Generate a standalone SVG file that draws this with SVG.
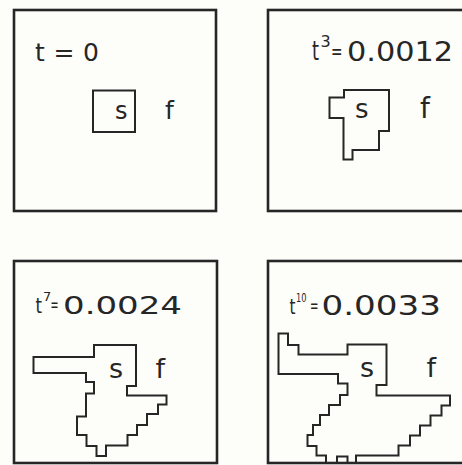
<svg xmlns="http://www.w3.org/2000/svg" width="462" height="465" viewBox="0 0 462 465">
<style>
.bg{fill:#fdfdf9}
.frame{fill:none;stroke:#262626;stroke-width:2.6}
.shape{fill:none;stroke:#262626;stroke-width:2;stroke-linejoin:miter}
text{font-family:"DejaVu Sans","Liberation Sans",sans-serif;fill:#262626}
</style>
<rect class="bg" x="0" y="0" width="462" height="465"/>
<g id="panel-t0">
  <rect class="frame" x="14" y="10" width="202" height="201"/>
  <rect class="shape" x="93" y="90.5" width="42" height="41.5"/>
  <text x="35" y="61" font-size="25" textLength="64" lengthAdjust="spacing">t = 0</text>
  <text x="115" y="119" font-size="24">s</text>
  <text x="165" y="118.5" font-size="25">f</text>
</g>
<g id="panel-t3">
  <rect class="frame" x="268" y="10" width="220" height="201"/>
  <polygon class="shape" points="344,90 389,90 389,131 379,131 379,150 352.5,150 352.5,159.5 343.5,159.5 343.5,118 329.5,118 329.5,97.5 344,97.5"/>
  <text font-size="26"><tspan x="312" y="60" textLength="7" lengthAdjust="spacingAndGlyphs">t</tspan><tspan x="320.5" y="46.5" font-size="16">3</tspan><tspan x="331" y="58.5" font-size="22" textLength="11.5" lengthAdjust="spacingAndGlyphs">=</tspan><tspan x="347" y="61" textLength="106" lengthAdjust="spacingAndGlyphs">0.0012</tspan></text>
  <text x="355" y="117.5" font-size="26">s</text>
  <text x="420" y="118" font-size="28">f</text>
</g>
<g id="panel-t7">
  <rect class="frame" x="14" y="261" width="203" height="202"/>
  <polygon class="shape" points="94,345 136,345 136,386 127,386 127,395.5 166.5,395.5 166.5,404.5 158,404.5 158,414 147,414 147,425 137,425 137,435 127.5,435 127.5,445.5 106,445.5 106,456 96.5,456 96.5,446 86.5,446 86.5,435 77,435 77,416.5 86,416.5 86,393.5 94,393.5 94,382 86,382 86,373 33.5,373 33.5,357 94,357"/>
  <text font-size="22"><tspan x="35.5" y="312.5" textLength="6.5" lengthAdjust="spacingAndGlyphs">t</tspan><tspan x="43" y="300.5" font-size="13">7</tspan><tspan x="50.5" y="311" font-size="20" textLength="8" lengthAdjust="spacingAndGlyphs">=</tspan><tspan x="63" y="313.5" font-size="24.5" textLength="119" lengthAdjust="spacingAndGlyphs">0.0024</tspan></text>
  <text x="109" y="378" font-size="27">s</text>
  <text x="155.5" y="378" font-size="27">f</text>
</g>
<g id="panel-t10">
  <rect class="frame" x="268" y="261" width="220" height="202"/>
  <polygon class="shape" points="278.5,333.5 288,333.5 288,345 298.5,345 298.5,354.5 347.5,354.5 347.5,344.5 386.5,344.5 386.5,385 376.5,385 376.5,395.5 450,395.5 450,405.5 441.5,405.5 441.5,415.5 430.5,415.5 430.5,425.5 420,425.5 420,435.5 410,435.5 410,445.5 398.5,445.5 398.5,455.5 356,455.5 356,463 347.5,463 347.5,456.5 337,456.5 337,463 326,463 326,455.5 316.5,455.5 316.5,446 307.5,446 307.5,435 313,435 313,425 320,425 320,415 329,415 329,405 340,405 340,395 347.5,395 347.5,383.5 338,383.5 338,374 278.5,374"/>
  <text font-size="22"><tspan x="289.5" y="313.5" textLength="6" lengthAdjust="spacingAndGlyphs">t</tspan><tspan x="296" y="302" font-size="12" textLength="10.5" lengthAdjust="spacingAndGlyphs">10</tspan><tspan x="310" y="312" font-size="20" textLength="8.5" lengthAdjust="spacingAndGlyphs">=</tspan><tspan x="321.5" y="314.5" font-size="26.5" textLength="119.5" lengthAdjust="spacingAndGlyphs">0.0033</tspan></text>
  <text x="360" y="377" font-size="27">s</text>
  <text x="426.5" y="377" font-size="27">f</text>
</g>
</svg>
